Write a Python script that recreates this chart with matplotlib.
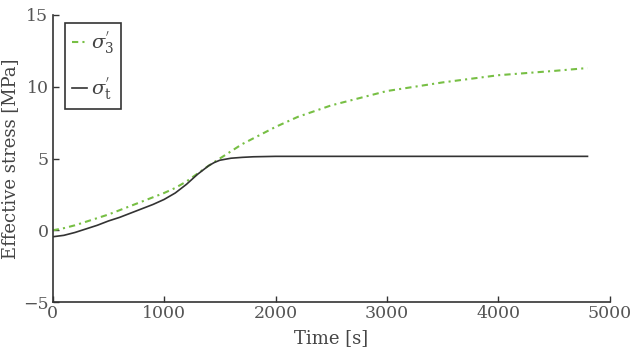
import matplotlib
matplotlib.use("Agg")
import matplotlib.pyplot as plt

time_s = [0, 100, 200, 300, 400, 500, 600, 700, 800, 900, 1000, 1100, 1200, 1300,
          1400, 1450, 1500, 1600, 1700, 1800, 2000, 2200, 2500, 3000, 3500, 4000, 4500, 4800]
sigma3 = [0.0, 0.15, 0.35, 0.6, 0.85, 1.1, 1.4, 1.7, 2.0, 2.3, 2.6, 2.95, 3.4, 3.95,
          4.5, 4.75, 5.0, 5.5, 6.0, 6.4, 7.2, 7.9, 8.7, 9.7, 10.3, 10.8, 11.1, 11.3]
sigmat = [-0.45, -0.35, -0.15, 0.1, 0.35, 0.65, 0.9, 1.2, 1.5, 1.8, 2.15, 2.6, 3.2, 3.9,
          4.5, 4.72, 4.88, 5.02, 5.08, 5.12, 5.15, 5.15, 5.15, 5.15, 5.15, 5.15, 5.15, 5.15]
xticks = [0, 1000, 2000, 3000, 4000, 5000]
yticks = [-5, 0, 5, 10, 15]

plt.rcParams['font.family'] = ['DejaVu Serif']
plt.rcParams['mathtext.fontset'] = 'dejavuserif'

fig = plt.figure(figsize=(6.33, 3.55), dpi=100)
ax = fig.add_axes([0.0833, 0.149, 0.880, 0.809])

ax.plot(time_s, sigma3, color='#77bf44', lw=1.5, linestyle=(0, (3, 2, 1, 2)),
        label=r"$\sigma^{'}_{3}$")
ax.plot(time_s, sigmat, color='#333333', lw=1.2, label=r"$\sigma^{'}_{\mathrm{t}}$")

ax.set_xlim(0, 5000)
ax.set_ylim(-5, 15)
ax.set_xticks(xticks)
ax.set_yticks(yticks)
ax.set_yticklabels(['\u22125', '0', '5', '10', '15'])
for s in ['top', 'right']:
    ax.spines[s].set_visible(False)
for s in ['left', 'bottom']:
    ax.spines[s].set_color('#333333')
    ax.spines[s].set_linewidth(1.2)
ax.tick_params(direction='in', length=4, width=1, colors='#333333',
               labelcolor='#555555', labelsize=12.5)
ax.tick_params(axis='x', pad=2)
ax.tick_params(axis='y', pad=3)

ax.set_xlabel('Time [s]', fontsize=13, color='#444444', labelpad=5)
ax.set_ylabel('Effective stress [MPa]', fontsize=13, color='#444444', labelpad=3)

leg = ax.legend(loc='upper left', bbox_to_anchor=(0.022, 0.972), borderaxespad=0,
                fontsize=14, handlelength=0.8, handletextpad=0.2, borderpad=0.35,
                labelspacing=1.0, fancybox=False, framealpha=1)
leg.get_frame().set_edgecolor('#333333')
leg.get_frame().set_linewidth(1.2)
for t in leg.get_texts():
    t.set_color('#444444')

fig.savefig('out.png', dpi=100)
